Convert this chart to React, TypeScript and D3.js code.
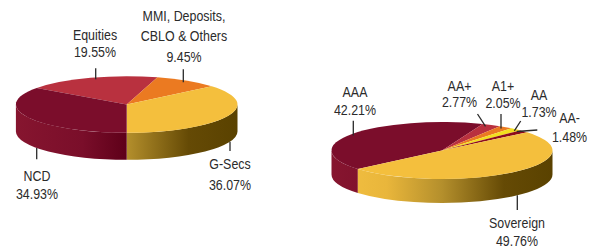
import React from "react";
import * as d3 from "d3";

// portfolio split (left) and rating split (right)
const assetCategories = [["Equities"], ["MMI, Deposits,", "CBLO & Others"], ["G-Secs"], ["NCD"]];
const assetValues = [19.55, 9.45, 36.07, 34.93];
const assetColors = ["#B9313F", "#EB7A21", "#F4BF3D", "#7B0D2B"];

const ratingCategories = [["AAA"], ["AA+"], ["A1+"], ["AA"], ["AA-"], ["Sovereign"]];
const ratingValues = [42.21, 2.77, 2.05, 1.73, 1.48, 49.76];
const ratingColors = ["#7B0D2B", "#B9313F", "#EB7A21", "#F3DF1E", "#8E0C1C", "#F4BF3D"];

const W = 597;
const H = 248;
const FONT = "'Liberation Sans', Arial, sans-serif";
const NARROW = 0.84;

type Lbl = { tx: number; ty: number; lh: number; x1: number; x2: number; y2: number; edge: "top" | "bottom" };

// label placement
const assetLabels: Lbl[] = [
  { tx: 95, ty: 40, lh: 17.5, x1: 95.7, x2: 95.7, y2: 68.3, edge: "top" },
  { tx: 184, ty: 21, lh: 20.5, x1: 183.3, x2: 183.3, y2: 69.3, edge: "top" },
  { tx: 230, ty: 169.3, lh: 20.5, x1: 230, x2: 230, y2: 151, edge: "bottom" },
  { tx: 37, ty: 180.7, lh: 18.5, x1: 36.7, x2: 36.7, y2: 159.3, edge: "bottom" },
];
const ratingLabels: Lbl[] = [
  { tx: 355, ty: 96.7, lh: 18.3, x1: 353.3, x2: 353.3, y2: 120.7, edge: "top" },
  { tx: 459.5, ty: 91, lh: 16, x1: 485.5, x2: 477.5, y2: 114, edge: "top" },
  { tx: 503, ty: 91.5, lh: 16.5, x1: 501, x2: 501, y2: 114, edge: "top" },
  { tx: 539, ty: 100, lh: 17.3, x1: 514.3, x2: 520.7, y2: 121, edge: "top" },
  { tx: 569.5, ty: 123.3, lh: 18.4, x1: 516.7, x2: 537.3, y2: 130, edge: "top" },
  { tx: 517, ty: 228.3, lh: 17.7, x1: 517.3, x2: 517.3, y2: 210, edge: "bottom" },
];

type PieProps = {
  id: string;
  cx: number;
  cy: number;
  rx: number;
  ry: number;
  depth: number;
  startDeg: number;
  values: number[];
  colors: string[];
  names: string[][];
  labels: Lbl[];
};

const Pie3D = ({ id, cx, cy, rx, ry, depth, startDeg, values, colors, names, labels }: PieProps) => {
  const start = (startDeg * Math.PI) / 180;
  const arcs = d3
    .pie<number>()
    .sort(null)
    .value((d) => d)
    .startAngle(start)
    .endAngle(start + 2 * Math.PI)(values);

  const pt = (a: number): [number, number] => [cx + rx * Math.sin(a), cy - ry * Math.cos(a)];
  const half = (x: number) => ry * Math.sqrt(Math.max(0, 1 - ((x - cx) / rx) ** 2));

  const topPath = (a0: number, a1: number) => {
    const p0 = pt(a0);
    const p1 = pt(a1);
    return `M${cx},${cy}L${p0[0]},${p0[1]}A${rx},${ry} 0 ${a1 - a0 > Math.PI ? 1 : 0} 1 ${p1[0]},${p1[1]}Z`;
  };

  const sidePath = (s0: number, s1: number) => {
    const p0 = pt(s0);
    const p1 = pt(s1);
    return `M${p0[0]},${p0[1]}A${rx},${ry} 0 0 1 ${p1[0]},${p1[1]}L${p1[0]},${p1[1] + depth}A${rx},${ry} 0 0 0 ${p0[0]},${p0[1] + depth}Z`;
  };

  // front half of the rim: angles pi/2 .. 3pi/2
  const sides: { d: string; i: number }[] = [];
  arcs.forEach((a, i) => {
    for (let k = -1; k <= 1; k++) {
      const lo = Math.PI / 2 + 2 * Math.PI * k;
      const hi = (3 * Math.PI) / 2 + 2 * Math.PI * k;
      const s0 = Math.max(a.startAngle, lo);
      const s1 = Math.min(a.endAngle, hi);
      if (s1 > s0) sides.push({ d: sidePath(s0, s1), i });
    }
  });

  const sideFill = (i: number) => {
    const c = colors[i];
    if (c === "#F4BF3D") return `url(#${id}-gold)`;
    if (c === "#7B0D2B") return `url(#${id}-maroon)`;
    return d3.color(c)!.darker(0.8).toString();
  };

  return (
    <g>
      <defs>
        <linearGradient id={`${id}-gold`} gradientUnits="userSpaceOnUse" x1={cx - rx} x2={cx + rx} y1={0} y2={0}>
          <stop offset="0" stopColor="#F4C142" />
          <stop offset="0.25" stopColor="#E9B63B" />
          <stop offset="0.5" stopColor="#B48F2C" />
          <stop offset="0.78" stopColor="#654A05" />
          <stop offset="1" stopColor="#5A4200" />
        </linearGradient>
        <linearGradient id={`${id}-maroon`} gradientUnits="userSpaceOnUse" x1={cx - rx} x2={cx + rx} y1={0} y2={0}>
          <stop offset="0" stopColor="#86152F" />
          <stop offset="0.3" stopColor="#7A0E2A" />
          <stop offset="0.5" stopColor="#5E0019" />
          <stop offset="1" stopColor="#4A0012" />
        </linearGradient>
      </defs>
      {sides.map((s, j) => (
        <path key={`s${j}`} d={s.d} fill={sideFill(s.i)} />
      ))}
      {arcs.map((a, i) => (
        <path key={`t${i}`} d={topPath(a.startAngle, a.endAngle)} fill={colors[i]} />
      ))}
      {labels.map((l, i) => {
        const y1 = l.edge === "top" ? cy - half(l.x1) + 2 : cy + half(l.x1) + depth;
        const lines = [...names[i], `${values[i].toFixed(2)}%`];
        return (
          <g key={`l${i}`}>
            <line x1={l.x1} y1={y1} x2={l.x2} y2={l.y2} stroke="#2a2a2a" strokeWidth={1.3} />
            <text
              transform={`translate(${l.tx},0) scale(${NARROW},1)`}
              x={0}
              y={l.ty}
              textAnchor="middle"
              fontFamily={FONT}
              fontSize={14.8}
              fill="#2b2b2b"
            >
              {lines.map((t, k) => (
                <tspan key={k} x={0} y={l.ty + k * l.lh}>
                  {t}
                </tspan>
              ))}
            </text>
          </g>
        );
      })}
    </g>
  );
};

export default function App() {
  // left: NCD / G-Secs boundary sits at the front (pi)
  const leftStart = 180 - (360 * (assetValues[0] + assetValues[1] + assetValues[2])) / d3.sum(assetValues);
  return (
    <svg
      width={W}
      height={H}
      viewBox={`0 0 ${W} ${H}`}
      style={{ position: "absolute", left: 0, top: 0, background: "#fff" }}
    >
      <Pie3D
        id="asset"
        cx={126.7}
        cy={104.5}
        rx={110.8}
        ry={28.3}
        depth={27}
        startDeg={leftStart}
        values={assetValues}
        colors={assetColors}
        names={assetCategories}
        labels={assetLabels}
      />
      <Pie3D
        id="rating"
        cx={442}
        cy={150.5}
        rx={110.5}
        ry={28.5}
        depth={24}
        startDeg={-130.4}
        values={ratingValues}
        colors={ratingColors}
        names={ratingCategories}
        labels={ratingLabels}
      />
    </svg>
  );
}
